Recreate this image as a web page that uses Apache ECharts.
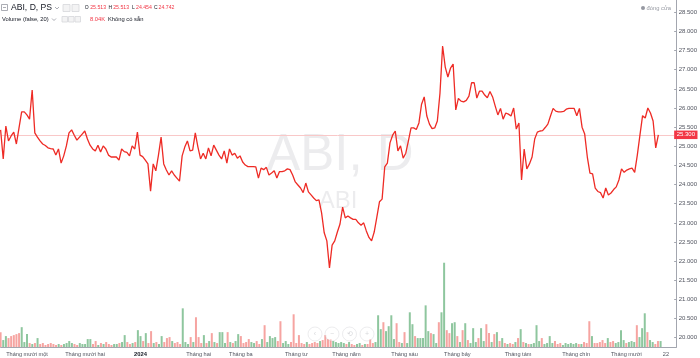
<!DOCTYPE html>
<html>
<head>
<meta charset="utf-8">
<script src="https://cdn.jsdelivr.net/npm/echarts@6/dist/echarts.min.js"></script>
<style>
html,body{margin:0;padding:0;background:#fff;}
#chart{width:700px;height:358px;}
</style>
</head>
<body>
<div id="chart"></div>
<script>
// ---------------- DATA ----------------
const symbolTitle = 'ABI, D, PS';
const watermarkMain = 'ABI, D';
const watermarkSub = 'ABI';
const ohlcLabels = ['O', 'H', 'L', 'C'];
const ohlcValues = ['25.513', '25.513', '24.454', '24.742'];
const volumeTitle = 'Volume (false, 20)';
const volumeValueText = '8.04K';
const volumeNote = 'Không có sẵn';
const priceSourceText = 'đóng cửa';

const startDate = '2023-10-18';
const holidays = ['2024-01-01','2024-02-08','2024-02-09','2024-02-12','2024-02-13','2024-02-14',
  '2024-04-18','2024-04-29','2024-04-30','2024-05-01','2024-09-02','2024-09-03'];
const futureBars = 6;

const monthNames = ['Tháng một','Tháng hai','Tháng ba','Tháng tư','Tháng năm','Tháng sáu',
  'Tháng bảy','Tháng tám','Tháng chín','Tháng mười','Tháng mười một','Tháng mười hai'];
const dayTicks = ['2024-10-22'];

const priceTicks = [20000,20500,21000,21500,22000,22500,23000,23500,24000,24500,
  25000,25500,26000,26500,27000,27500,28000,28500];

const closes = [
  25430,24670,25530,25140,25270,25370,25060,25480,25900,25900,
  25820,25710,26470,25350,25240,25140,25060,25020,24960,24940,
  24930,24770,24930,24560,24750,25010,25350,25430,25290,25160,
  25240,25320,25400,25190,25030,24930,24880,25030,24850,25010,
  24930,24770,24720,24720,24720,24640,24930,24860,24840,24750,
  25010,24930,25370,24770,24730,24640,24540,23830,24540,24360,
  24770,25240,24540,24380,24250,24360,24250,24170,24090,24750,
  24980,25140,24880,24900,25350,24980,24670,24820,24670,24960,
  24750,25030,24900,24770,24670,24880,24560,24930,24770,24820,
  24690,24750,24590,24510,24470,24470,24470,24460,24170,24430,
  24390,24450,24250,24300,24360,24170,24340,24340,24360,24410,
  24390,24250,24070,23990,23910,23790,24040,23810,23730,23650,
  23580,23600,23260,22740,22530,21820,22420,22530,22760,22970,
  23410,23130,23180,23130,23090,23090,23000,22940,23000,22790,
  22620,22530,22760,23150,23550,23620,24460,24560,25090,25290,
  25400,24880,25010,24690,24820,25140,25480,25480,25440,25610,
  26100,26290,25790,25580,25460,25480,25660,26390,27620,27070,
  26810,27040,27150,25950,26250,26180,26160,26200,26310,26660,
  26660,26260,26440,26440,26340,26270,26430,26290,26050,25820,
  25990,25710,25870,25840,25790,26000,25450,25610,24120,24930,
  24410,24540,24720,25190,25370,25400,25410,25490,25580,25790,
  25990,25920,25900,25900,25910,25970,25990,25990,25990,25800,
  25990,25500,25320,24720,24300,24280,23910,23820,23790,23650,
  23910,23730,23780,23870,23940,24120,24410,24320,24380,24410,
  24430,24320,24770,25290,25800,25740,26000,25870,25660,24960,
  25300
];

// volume in thousands
const volumes = [
  15,7,11,9,11,12,13,14,20,5,
  13,4,3,4,9,3,4,2,3,4,
  3,2,3,2,3,4,6,4,3,2,
  4,3,3,8,8,3,6,2,4,3,
  5,3,2,3,3,4,5,12,5,3,
  4,5,17,11,6,14,4,16,4,5,
  3,11,5,9,10,6,4,5,3,39,
  5,3,10,5,30,10,4,12,4,6,
  14,5,4,15,15,4,15,5,4,6,
  13,11,4,5,8,5,4,6,3,8,
  22,5,11,9,10,6,26,4,6,3,
  5,33,4,12,4,3,5,3,4,5,
  4,6,7,12,8,8,6,5,4,5,
  4,3,5,3,2,3,4,2,3,3,
  8,4,5,32,18,25,16,21,32,8,
  24,5,4,15,4,35,23,11,9,9,
  9,42,16,14,13,4,25,35,85,17,
  14,24,25,11,5,17,24,7,4,19,
  5,9,19,6,23,14,5,13,15,6,
  9,4,3,4,3,5,9,18,5,4,
  3,3,4,22,6,9,3,4,11,4,
  6,3,4,2,4,3,4,3,4,3,
  3,5,4,26,11,4,4,5,7,4,
  9,5,6,4,5,17,7,4,5,6,
  5,22,10,19,34,15,7,5,3,6,
  6
];

// u = up (green) bar, d = down (red) bar
const volumeDirection =
  'duuddddduu' + 'udududdddd' + 'dduduuuudd' + 'uuuuuddudu' + 'ddduuduudd' +
  'uduududdud' + 'uudddudddu' + 'uududddudu' + 'duduuududu' + 'udddduuddu' +
  'duuuudduuu' + 'dddddduddd' + 'dudddduuuu' + 'ududduudud' + 'dduuuduuuu' +
  'dduduuuduu' + 'uuuduuduud' + 'duudududuu' + 'uduuddudud' + 'ududdududu' +
  'duuuuduuuu' + 'ddduuuuuud' + 'uddduddddd' + 'udduuuuduu' + 'uduuuduudd' +
  'u';

// ---------------- BUILD ----------------
function tradingDays(start, n) {
  const out = [];
  const d = new Date(start + 'T00:00:00Z');
  while (out.length < n) {
    const dow = d.getUTCDay();
    const s = d.toISOString().slice(0, 10);
    if (dow !== 0 && dow !== 6 && holidays.indexOf(s) < 0) out.push(s);
    d.setUTCDate(d.getUTCDate() + 1);
  }
  return out;
}
const dates = tradingDays(startDate, closes.length + futureBars);

const tickText = {};
for (let i = 1; i < dates.length; i++) {
  const m = +dates[i].slice(5, 7) - 1, pm = +dates[i - 1].slice(5, 7) - 1;
  if (m !== pm) tickText[i] = (m === 0) ? '{b|' + dates[i].slice(0, 4) + '}' : monthNames[m];
  if (dayTicks.indexOf(dates[i]) >= 0) tickText[i] = String(+dates[i].slice(8, 10));
}

function fmtPrice(v) {
  const k = Math.floor(v / 1000), r = Math.round(v % 1000);
  return k + '.' + String(r).padStart(3, '0');
}

const UP = '#8ec69e', DOWN = '#f6a4a1', RED = '#f23645';
const FONT = '"Liberation Sans", Arial, sans-serif';
const lastClose = closes[closes.length - 1];

const gridLeft = 0.6, gridRight = 23.56;

const chart = echarts.init(document.getElementById('chart'), null, {renderer: 'canvas'});

const txt = (t, x, y, size, color) => ({
  type: 'text', z: 100, x: x, y: y,
  style: {text: t, fontSize: size, fill: color, fontFamily: FONT, verticalAlign: 'middle', textAlign: 'left'}
});

const graphics = [
  // watermark
  {type: 'text', z: 1, x: 340, y: 156, silent: true,
   style: {text: watermarkMain, fontSize: 51, fill: 'rgba(120,123,134,0.14)', fontFamily: FONT, textAlign: 'center', verticalAlign: 'middle'}},
  {type: 'text', z: 1, x: 338, y: 201, silent: true,
   style: {text: watermarkSub, fontSize: 24, fill: 'rgba(120,123,134,0.14)', fontFamily: FONT, textAlign: 'center', verticalAlign: 'middle'}},
  // legend line 1
  {type: 'rect', z: 100, shape: {x: 1.5, y: 4.5, width: 6, height: 6}, style: {fill: '#fff', stroke: '#9598a1', lineWidth: 0.8}},
  {type: 'line', z: 100, shape: {x1: 3, y1: 7.5, x2: 6, y2: 7.5}, style: {stroke: '#9598a1', lineWidth: 0.8}},
  txt(symbolTitle, 11, 8, 8.6, '#131722'),
  {type: 'polyline', z: 100, shape: {points: [[55, 7], [57, 9], [59, 7]]}, style: {stroke: '#9598a1', lineWidth: 0.8, fill: 'none'}},
  {type: 'rect', z: 100, shape: {x: 63, y: 4.5, width: 7, height: 7}, style: {fill: '#f3f3f4', stroke: '#d6d7da', lineWidth: 0.8}},
  {type: 'rect', z: 100, shape: {x: 72, y: 4.5, width: 7, height: 7}, style: {fill: '#f3f3f4', stroke: '#d6d7da', lineWidth: 0.8}},
  txt(ohlcLabels[0], 84.8, 8, 5.0, '#131722'),
  txt(ohlcValues[0], 90.2, 8, 5.2, RED),
  txt(ohlcLabels[1], 108.4, 8, 5.0, '#131722'),
  txt(ohlcValues[1], 113.2, 8, 5.2, RED),
  txt(ohlcLabels[2], 131.9, 8, 5.0, '#131722'),
  txt(ohlcValues[2], 136, 8, 5.2, RED),
  txt(ohlcLabels[3], 154, 8, 5.0, '#131722'),
  txt(ohlcValues[3], 158.6, 8, 5.2, RED),
  // legend line 2
  txt(volumeTitle, 2, 19.5, 5.8, '#131722'),
  {type: 'polyline', z: 100, shape: {points: [[52, 18.5], [54, 20.5], [56, 18.5]]}, style: {stroke: '#9598a1', lineWidth: 0.8, fill: 'none'}},
  {type: 'rect', z: 100, shape: {x: 62, y: 16.5, width: 5.5, height: 5.5}, style: {fill: '#f3f3f4', stroke: '#d6d7da', lineWidth: 0.8}},
  {type: 'rect', z: 100, shape: {x: 68.5, y: 16.5, width: 5.5, height: 5.5}, style: {fill: '#f3f3f4', stroke: '#d6d7da', lineWidth: 0.8}},
  {type: 'rect', z: 100, shape: {x: 75, y: 16.5, width: 5.5, height: 5.5}, style: {fill: '#f3f3f4', stroke: '#d6d7da', lineWidth: 0.8}},
  txt(volumeValueText, 90, 19.5, 5.8, RED),
  txt(volumeNote, 108, 19.5, 5.8, '#131722'),
  // top-right
  {type: 'circle', z: 100, shape: {cx: 643, cy: 8, r: 2}, style: {fill: '#9598a1'}},
  txt(priceSourceText, 646.5, 8, 5.8, '#9598a1'),
];
// faint navigation buttons
const navGlyphs = ['‹', '−', '⟲', '+'];
const navX = [315, 332, 349.5, 367];
navX.forEach((x, k) => {
  graphics.push({type: 'circle', z: 90, shape: {cx: x, cy: 334, r: 7}, style: {fill: 'rgba(255,255,255,0.55)', stroke: 'rgba(120,123,134,0.18)', lineWidth: 0.8}});
  graphics.push({type: 'text', z: 91, x: x, y: 334, style: {text: navGlyphs[k], fontSize: 7, fill: 'rgba(120,123,134,0.3)', fontFamily: FONT, textAlign: 'center', verticalAlign: 'middle'}});
});

const option = {
  animation: false,
  backgroundColor: '#ffffff',
  grid: [
    {left: gridLeft, right: gridRight, top: 0, height: 337.7},
    {left: gridLeft, right: gridRight, top: 0, height: 347}
  ],
  xAxis: [
    {type: 'category', gridIndex: 0, data: dates, boundaryGap: false, show: false},
    {type: 'category', gridIndex: 1, data: dates, boundaryGap: false,
     axisLine: {show: true, lineStyle: {color: '#a3a6af', width: 1}},
     axisTick: {show: false},
     splitLine: {show: false},
     axisLabel: {
       show: true, margin: 4, fontSize: 5.6, color: '#50535e', fontFamily: FONT,
       hideOverlap: false,
       interval: (idx) => tickText[idx] !== undefined,
       formatter: (val, idx) => tickText[idx] || '',
       rich: {b: {fontWeight: 'bold', fontSize: 5.8, color: '#131722', fontFamily: FONT}}
     }}
  ],
  yAxis: [
    {type: 'value', gridIndex: 0, position: 'right', min: 20000, max: 28822,
     axisLine: {show: false},
     axisTick: {show: true, length: 2, lineStyle: {color: '#a3a6af'}, customValues: priceTicks},
     splitLine: {show: false},
     axisLabel: {show: true, margin: 4.5, fontSize: 6, color: '#50535e', fontFamily: FONT,
       customValues: priceTicks, showMinLabel: true, showMaxLabel: true,
       formatter: (v) => fmtPrice(v)}},
    {type: 'value', gridIndex: 1, position: 'right', min: 0, max: 350,
     axisLine: {show: true, lineStyle: {color: '#a3a6af', width: 1}},
     axisTick: {show: false}, axisLabel: {show: false}, splitLine: {show: false}}
  ],
  series: [
    {type: 'bar', xAxisIndex: 1, yAxisIndex: 1, barWidth: 2, z: 1,
     data: volumes.map((v, i) => ({value: v, itemStyle: {color: volumeDirection[i] === 'u' ? UP : DOWN}}))},
    {type: 'line', xAxisIndex: 0, yAxisIndex: 0, data: closes, showSymbol: false, symbol: 'none', z: 5,
     lineStyle: {color: '#ee2b25', width: 1.3}, itemStyle: {color: '#ee2b25'},
     markLine: {
       silent: true, symbol: ['none', 'none'], animation: false,
       lineStyle: {color: '#f9c8c8', width: 1, type: 'solid'},
       label: {show: true, position: 'end', distance: 0, formatter: fmtPrice(lastClose),
         backgroundColor: RED, color: '#fff', fontSize: 6, fontFamily: FONT, padding: [1.5, 2.5, 1, 2.5]},
       data: [{yAxis: lastClose}]
     }}
  ],
  graphic: graphics
};
chart.setOption(option);
</script>
</body>
</html>
